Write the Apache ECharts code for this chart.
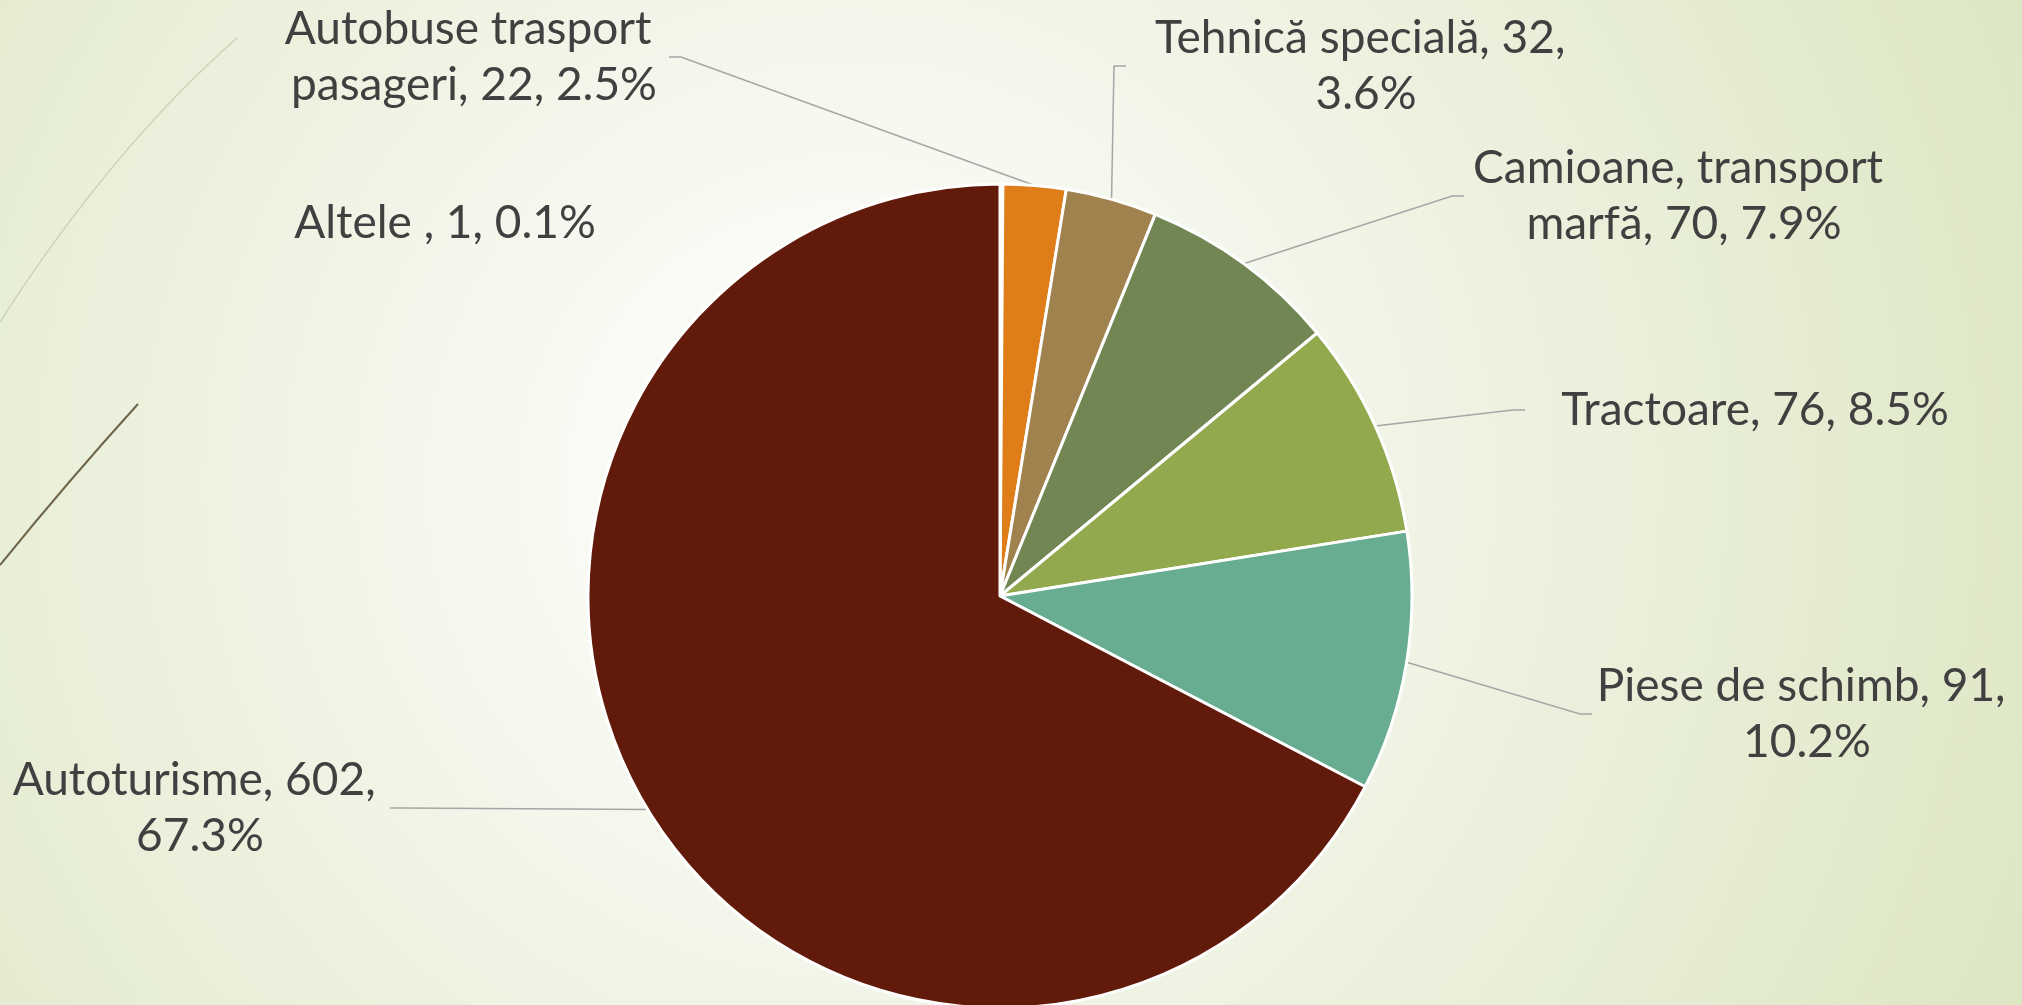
<!DOCTYPE html>
<html>
<head>
<meta charset="utf-8">
<title>Structura importului</title>
<script src="https://cdn.jsdelivr.net/npm/echarts@6/dist/echarts.min.js"></script>
<style>
  html, body { margin: 0; padding: 0; width: 100%; height: 100%; overflow: hidden; }
  body { background: radial-gradient(circle at 42% 48%, #ffffff 0%, #f8faf3 22%, #ecf1de 55%, #dde6c3 100%); }
  #chart { width: 2022px; height: 1005px; }
</style>
</head>
<body>
<div id="chart"></div>
<script>
// date din diagramă (în ordinea feliilor, de la ora 12 în sensul acelor de ceas)
var categories = ["Altele ", "Autobuse trasport pasageri", "Tehnică specială", "Camioane, transport marfă", "Tractoare", "Piese de schimb", "Autoturisme"];
var values = [1, 22, 32, 70, 76, 91, 602];
var percents = ["0.1", "2.5", "3.6", "7.9", "8.5", "10.2", "67.3"];
var colors = ["#ffffff", "#df7d19", "#a0824f", "#718653", "#93a94d", "#68ac92", "#621a0b"];

// poziția etichetelor (centrul blocului de text) și lățimea lor de rupere
var labelPos = [[445, 223], [474, 57], [1366, 66], [1684, 196], [1755, 410], [1807, 714], [200, 808]];
var labelWidth = [420, 390, 480, 440, 460, 430, 380];

var chart = echarts.init(document.getElementById("chart"), null, { renderer: "canvas" });

var data = categories.map(function (name, i) {
  return {
    name: name,
    value: values[i],
    itemStyle: { color: colors[i] },
    label: { width: labelWidth[i] },
    labelLine: { show: i !== 0 }
  };
});

chart.setOption({
  backgroundColor: "transparent",
  animation: false,
  graphic: [
    {
      type: "bezierCurve",
      shape: { x1: 237, y1: 38, cpx1: 110, cpy1: 150, x2: 0, y2: 322 },
      style: { stroke: "#cdd3b9", lineWidth: 1.5, fill: null },
      silent: true
    },
    {
      type: "bezierCurve",
      shape: { x1: 138, y1: 404, cpx1: 69, cpy1: 480, x2: 0, y2: 565 },
      style: { stroke: "#6e6548", lineWidth: 2, fill: null },
      silent: true
    }
  ],
  series: [
    {
      type: "pie",
      center: [1000, 596],
      radius: 412,
      startAngle: 90,
      clockwise: true,
      avoidLabelOverlap: false,
      itemStyle: { borderColor: "#ffffff", borderWidth: 3 },
      label: {
        show: true,
        position: "outside",
        fontFamily: "Lato, 'Open Sans', sans-serif",
        fontWeight: 400,
        fontSize: 46,
        lineHeight: 56,
        color: "#404040",
        align: "center",
        overflow: "break",
        formatter: function (p) {
          return p.name + ", " + p.value + ", " + percents[p.dataIndex] + "%";
        }
      },
      labelLine: {
        show: true,
        length: 20,
        length2: 12,
        lineStyle: { color: "#a6a6a6", width: 1.5 }
      },
      labelLayout: function (params) {
        var pos = labelPos[params.dataIndex];
        return { x: pos[0], y: pos[1], align: "center", verticalAlign: "middle" };
      },
      emphasis: { disabled: true },
      data: data
    }
  ]
});

window.addEventListener("resize", function () {
  chart.resize();
});
</script>
</body>
</html>
